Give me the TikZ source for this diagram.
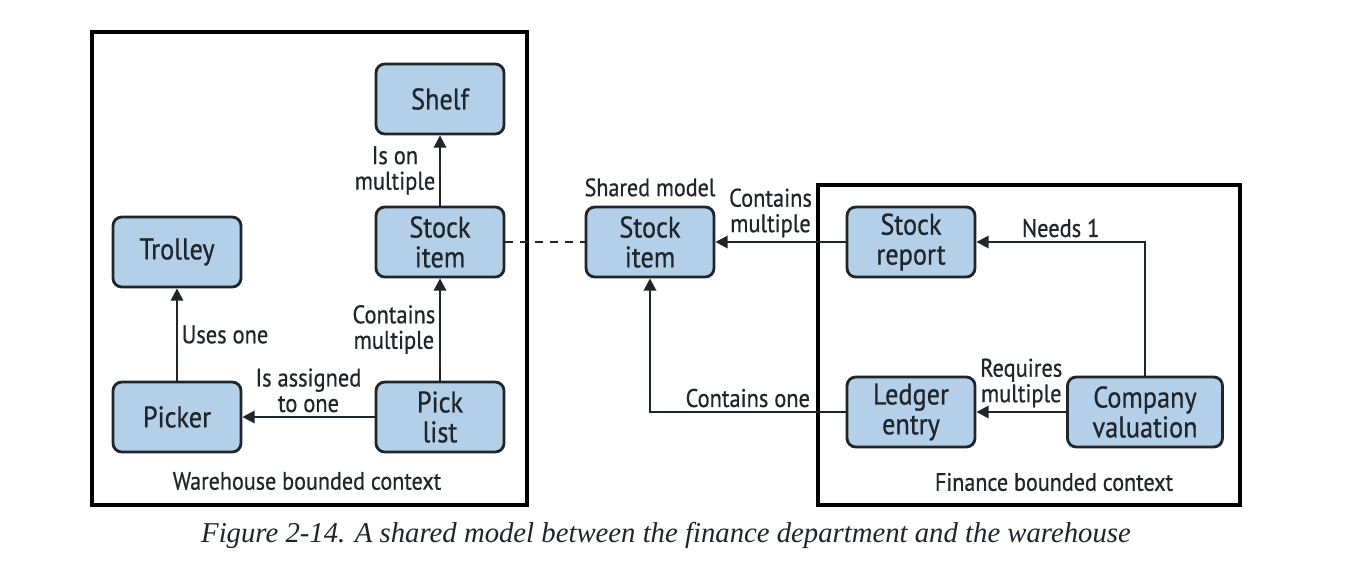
\documentclass[tikz,border=0pt]{standalone}
\usepackage{fontspec}
\usetikzlibrary{arrows.meta,positioning}
\newfontfamily\diagfont{PT Sans}[FakeStretch=0.88, FakeBold=0.6]
\newfontfamily\capfont{Liberation Serif}
\definecolor{boxblue}{HTML}{B4D0E9}
\definecolor{inkdark}{HTML}{1E252B}

\begin{document}
\begin{tikzpicture}[inkdark]
			\useasboundingbox (0,0) rectangle (27,-11.6);

			% bounded contexts
			\draw[line width=2.8pt, black] (1.84,-0.64) rectangle (10.54,-10.1);
			\draw[line width=2.8pt, black] (16.36,-3.7) rectangle (24.8,-10.1);

			\begin{scope}[every node/.style={rectangle, rounded corners=5pt, draw, line width=1.6pt, fill=boxblue, minimum width=2.56cm, minimum height=1.4cm, align=center, font=\diagfont\fontsize{17}{17}\selectfont}]
				\node (shelf) at (8.8,-1.98) {Shelf};
				\node (trolley) at (3.54,-5.04) {Trolley};
				\node (whitem) at (8.8,-4.84) {Stock\\item};
				\node (picker) at (3.54,-8.34) {Picker};
				\node (picklist) at (8.8,-8.34) {Pick\\list};
				\node (shitem) at (13.0,-4.84) {Stock\\item};
				\node (report) at (18.22,-4.84) {Stock\\report};
				\node (ledger) at (18.22,-8.24) {Ledger\\entry};
				\node[minimum width=3.1cm] (valuation) at (22.9,-8.24) {Company\\valuation};
			\end{scope}

			\begin{scope}[every node/.style={font=\diagfont\fontsize{14.3}{14.3}\selectfont, align=center, inner sep=2pt}]
				\node[above=3pt of shitem] (shared) {Shared model};
				\node (whlabel) at (6.14,-9.62) {Warehouse bounded context};
				\node (finlabel) at (21.08,-9.64) {Finance bounded context};
			\end{scope}

			\begin{scope}[-{Triangle[length=7pt,width=7pt]}, line width=1.4pt, every node/.style={font=\diagfont\fontsize{14.5}{14.5}\selectfont, align=center, inner sep=2pt}]
				\draw (whitem) -- (shelf) node[midway, left] {Is on\\multiple};
				\draw (picklist) -- (whitem) node[midway, left] {Contains\\multiple};
				\draw (picker) -- (trolley) node[midway, right] {Uses one};
				\draw (picklist) -- (picker) node[midway, above] {Is assigned\\to one};
				\draw (report) -- (shitem) node[midway, above, xshift=-0.2cm] {Contains\\multiple};
				\draw (valuation) |- (report) node[pos=0.75, above] {Needs 1};
				\draw (valuation) -- (ledger) node[midway, above] {Requires\\multiple};
				\draw (ledger) -| (shitem) node[pos=0.25, above] {Contains one};
				\draw[-, dash pattern=on 4.5pt off 4pt] (whitem) -- (shitem);
			\end{scope}

			\node (caption) at (13.32,-10.7) {\capfont\itshape\fontsize{16.35}{19}\selectfont Figure 2-14. A shared model between the finance department and the warehouse};
		\end{tikzpicture}
\end{document}
